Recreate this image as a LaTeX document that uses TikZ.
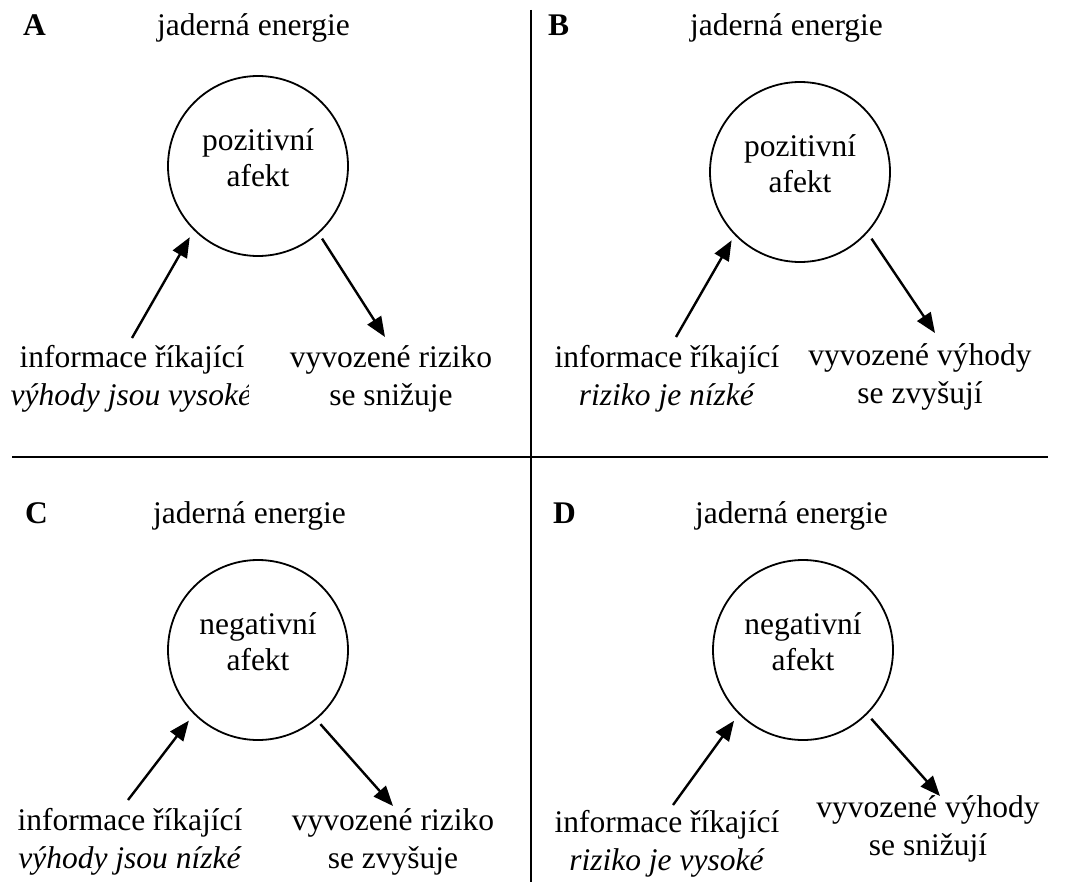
\documentclass[tikz,border=0pt]{standalone}
\usepackage{fontspec}
\setmainfont{Liberation Serif}
\usetikzlibrary{arrows.meta}
\newcommand{\lowpad}{\rule[-16pt]{0pt}{16pt}}
\begin{document}
\begin{tikzpicture}[x=1pt,y=-1pt,
  every node/.style={font=\fontsize{31.5}{38}\selectfont, inner sep=0pt},
  panel/.style={font=\fontsize{31.5}{38}\selectfont\bfseries, anchor=base west},
  topic/.style={anchor=base west},
  affect/.style={circle, draw, line width=1.8pt, minimum size=180pt, align=center,
                 font=\fontsize{31.5}{36}\selectfont},
  txt/.style={align=center, anchor=base},
  arr/.style={line width=2.4pt, -{Triangle[length=20pt,width=16pt]}},
  divider/.style={line width=2pt}]

\fill[white] (0,0) rectangle (1078,888);
\useasboundingbox (0,0) rectangle (1078,888);

% quadrant dividers
\coordinate (vt) at (531,10);
\coordinate (vb) at (531,882);
\coordinate (hl) at (12,457);
\coordinate (hr) at (1048,457);
\draw[divider] (vt) -- (vb);
\draw[divider] (hl) -- (hr);

% panel letters and topic
\node[panel] (lA) at (23,36) {A};
\node[topic] (tA) at (157,36) {jaderná energie};
\node[panel] (lB) at (548,36) {B};
\node[topic] (tB) at (690,36) {jaderná energie};
\node[panel] (lC) at (25,523) {C};
\node[topic] (tC) at (153,523) {jaderná energie};
\node[panel] (lD) at (553,523) {D};
\node[topic] (tD) at (695,523) {jaderná energie};

% affect circles
\node[affect] (cA) at (258,166) {pozitivní\\afekt\lowpad};
\node[affect] (cB) at (800,172) {pozitivní\\afekt\lowpad};
\node[affect] (cC) at (258,650) {negativní\\afekt\lowpad};
\node[affect] (cD) at (803,650) {negativní\\afekt\lowpad};

% information and inference texts (positions are last-line baselines)
\begin{scope}
  \clip (0,320) -- (275,320) -- (275,378) -- (248,378) -- (248,425) -- (0,425) -- cycle;
  \node[txt] (iA) at (132,405) {informace říkající\\\textit{výhody jsou vysoké}};
\end{scope}
\node[txt] (rA) at (391,405) {vyvozené riziko\\se snižuje};
\node[txt] (iB) at (667,405) {informace říkající\\\textit{riziko je nízké}};
\node[txt] (rB) at (920,403) {vyvozené výhody\\se zvyšují};
\node[txt] (iC) at (130,868) {informace říkající\\\textit{výhody jsou nízké}};
\node[txt] (rC) at (393,868) {vyvozené riziko\\se zvyšuje};
\node[txt] (iD) at (667,870) {informace říkající\\\textit{riziko je vysoké}};
\node[txt] (rD) at (928,855) {vyvozené výhody\\se snižují};

% arrow ends
\coordinate (aAl) at (132,338);
\coordinate (aAr) at (385,337);
\coordinate (aBl) at (676,337);
\coordinate (aBr) at (935,333);
\coordinate (aCl) at (128,800);
\coordinate (aCr) at (393,806);
\coordinate (aDl) at (673,805);
\coordinate (aDr) at (940,796);

% arrows
\draw[arr, shorten >=8pt] (aAl) -- (cA.225);
\draw[arr, shorten <=6pt] (cA.-48) -- (aAr);
\draw[arr, shorten >=6pt] (aBl) -- (cB.224);
\draw[arr, shorten <=7pt] (cB.-42) -- (aBr);
\draw[arr, shorten >=8pt] (aCl) -- (cC.225);
\draw[arr, shorten <=6pt] (cC.-50) -- (aCr);
\draw[arr, shorten >=8pt] (aDl) -- (cD.225);
\draw[arr, shorten <=6pt] (cD.-45) -- (aDr);
\end{tikzpicture}
\end{document}
